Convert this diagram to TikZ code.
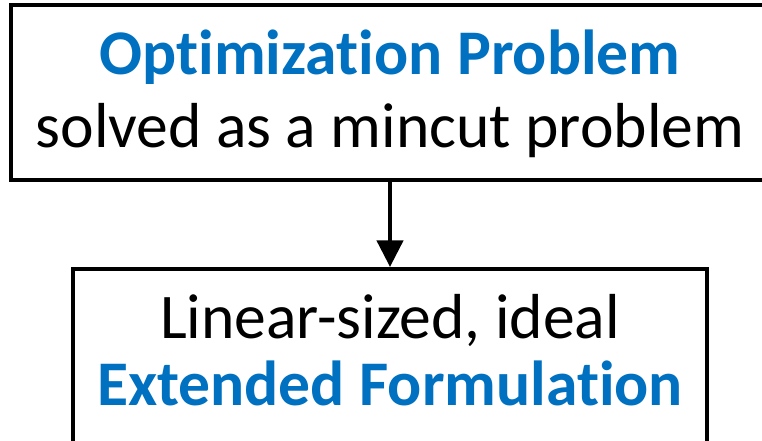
\documentclass[tikz,border=0pt]{standalone}
\usepackage{fontspec}
\setmainfont[Ligatures={NoCommon}]{Carlito}
\usetikzlibrary{arrows.meta}
\definecolor{accent}{HTML}{0070C0}
\begin{document}
\begin{tikzpicture}[x=0.75pt,y=-0.75pt,
  box/.style={draw=black, line width=3pt, fill=white, inner sep=0pt},
  txt/.style={anchor=base, inner sep=0pt, font=\fontsize{47.7}{56}\selectfont},
  hl/.style={txt, text=accent, font=\fontsize{47.7}{56}\selectfont\bfseries},
  link/.style={line width=3.4pt, -{Triangle[length=20pt,width=19.5pt]}}]
  \useasboundingbox (0,0) rectangle (762,441);
  \clip (0,0) rectangle (762,441);
  % upper box
  \node[box, minimum width=758*0.75pt, minimum height=175*0.75pt] (top) at (390,92.5) {};
  \node[hl] (t1) at (390,75) {Optimization Problem};
  \node[txt] (t2) at (390,148) {solved as a mincut problem};
  % lower box
  \node[box, minimum width=634.3*0.75pt, minimum height=201*0.75pt] (bot) at (390,369.5) {};
  \node[txt] (b1) at (390,338) {Linear-sized, ideal};
  \node[hl] (b2) at (390,405) {Extended Formulation};
  % connector
  \draw[link] (top.south) -- (bot.north);
\end{tikzpicture}
\end{document}
